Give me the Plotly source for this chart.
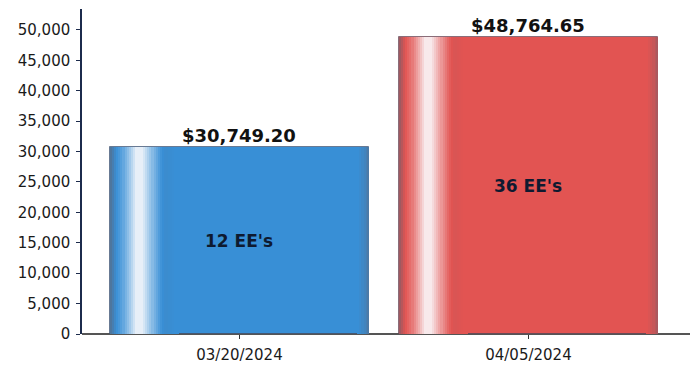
import plotly.graph_objects as go

# ---- data ----
dates = ["03/20/2024", "04/05/2024"]
amounts = [30749.20, 48764.65]
employees = [12, 36]
y_ticks = [0, 5000, 10000, 15000, 20000, 25000, 30000, 35000, 40000, 45000, 50000]

# ---- style ----
main_colors = [(56, 143, 214), (226, 84, 82)]
edge_colors = [(85, 110, 140), (140, 90, 100)]
BAR_W = 0.896

def mix(c1, c2, t):
    return tuple(int(round(a + (b - a) * t)) for a, b in zip(c1, c2))

def rgb(c):
    return "rgb(%d,%d,%d)" % c

# highlight profile: (position fraction, amount) ; >0 towards white, <0 towards edge colour
profile = [(0.0, -0.9), (0.012, -0.5), (0.025, 0.0), (0.05, 0.2), (0.08, 0.6),
           (0.10, 0.9), (0.125, 0.9), (0.16, 0.45), (0.19, 0.1), (0.215, -0.12),
           (0.25, 0.0), (0.96, 0.0), (0.985, -0.35), (1.0, -0.7)]

def amount_at(p):
    for (p0, a0), (p1, a1) in zip(profile, profile[1:]):
        if p0 <= p <= p1:
            return a0 + (a1 - a0) * (p - p0) / (p1 - p0)
    return 0.0

fig = go.Figure()

# base bars
fig.add_trace(go.Bar(
    x=dates, y=amounts, width=BAR_W,
    marker=dict(color=[rgb(c) for c in main_colors],
                line=dict(width=1, color="rgba(70,70,90,0.6)")),
    hoverinfo="skip", showlegend=False,
))

# gradient strips (left highlight + right edge shading)
step = 0.008
positions = []
p = 0.0
while p < 0.26:
    positions.append(p)
    p += step
p = 0.955
while p < 1.0:
    positions.append(p)
    p += step

for p in positions:
    w = min(step, 1.0 - p)
    a = amount_at(p + w / 2)
    cols = []
    for mc, ec in zip(main_colors, edge_colors):
        if a >= 0:
            c = mix(mc, (250, 250, 252), a)
        else:
            c = mix(mc, ec, -a)
        cols.append(rgb(c))
    fig.add_trace(go.Bar(
        x=dates, y=amounts, width=w * BAR_W + 0.0005,
        offset=-BAR_W / 2 + p * BAR_W,
        marker=dict(color=cols, line=dict(width=0)),
        hoverinfo="skip", showlegend=False,
    ))

# value labels on top
for d, v in zip(dates, amounts):
    fig.add_annotation(x=d, y=v, text="<b>${:,.2f}</b>".format(v), showarrow=False,
                       yanchor="bottom", yshift=-1,
                       font=dict(family="DejaVu Sans", size=18, color="#111111"))

# employee labels inside
for d, v, n in zip(dates, amounts, employees):
    fig.add_annotation(x=d, y=v / 2, text="<b>{} EE's</b>".format(n), showarrow=False,
                       font=dict(family="DejaVu Sans", size=17, color="#0e1a30"))

fig.update_layout(
    width=694, height=368,
    margin=dict(l=82, r=4, t=9, b=34),
    paper_bgcolor="white", plot_bgcolor="white",
    barmode="overlay", bargap=0,
    showlegend=False,
    xaxis=dict(type="category", range=[-0.545, 1.559],
               showgrid=False, zeroline=False,
               showline=False,
               ticks="outside", ticklen=4, tickcolor="#333333",
               ticklabelstandoff=3,
               tickfont=dict(family="DejaVu Sans", size=15, color="#1a1a1a")),
    yaxis=dict(range=[0, 53450], tickvals=y_ticks, tickformat=",",
               showgrid=False, zeroline=True, zerolinecolor="#555555", zerolinewidth=1.5,
               showline=True, linecolor="#1c2b4c", linewidth=1.5,
               ticks="outside", ticklen=4, tickcolor="#1c2b4c",
               ticklabelstandoff=3,
               tickfont=dict(family="DejaVu Sans", size=15, color="#1a1a1a")),
)

fig.write_html("out.html")
